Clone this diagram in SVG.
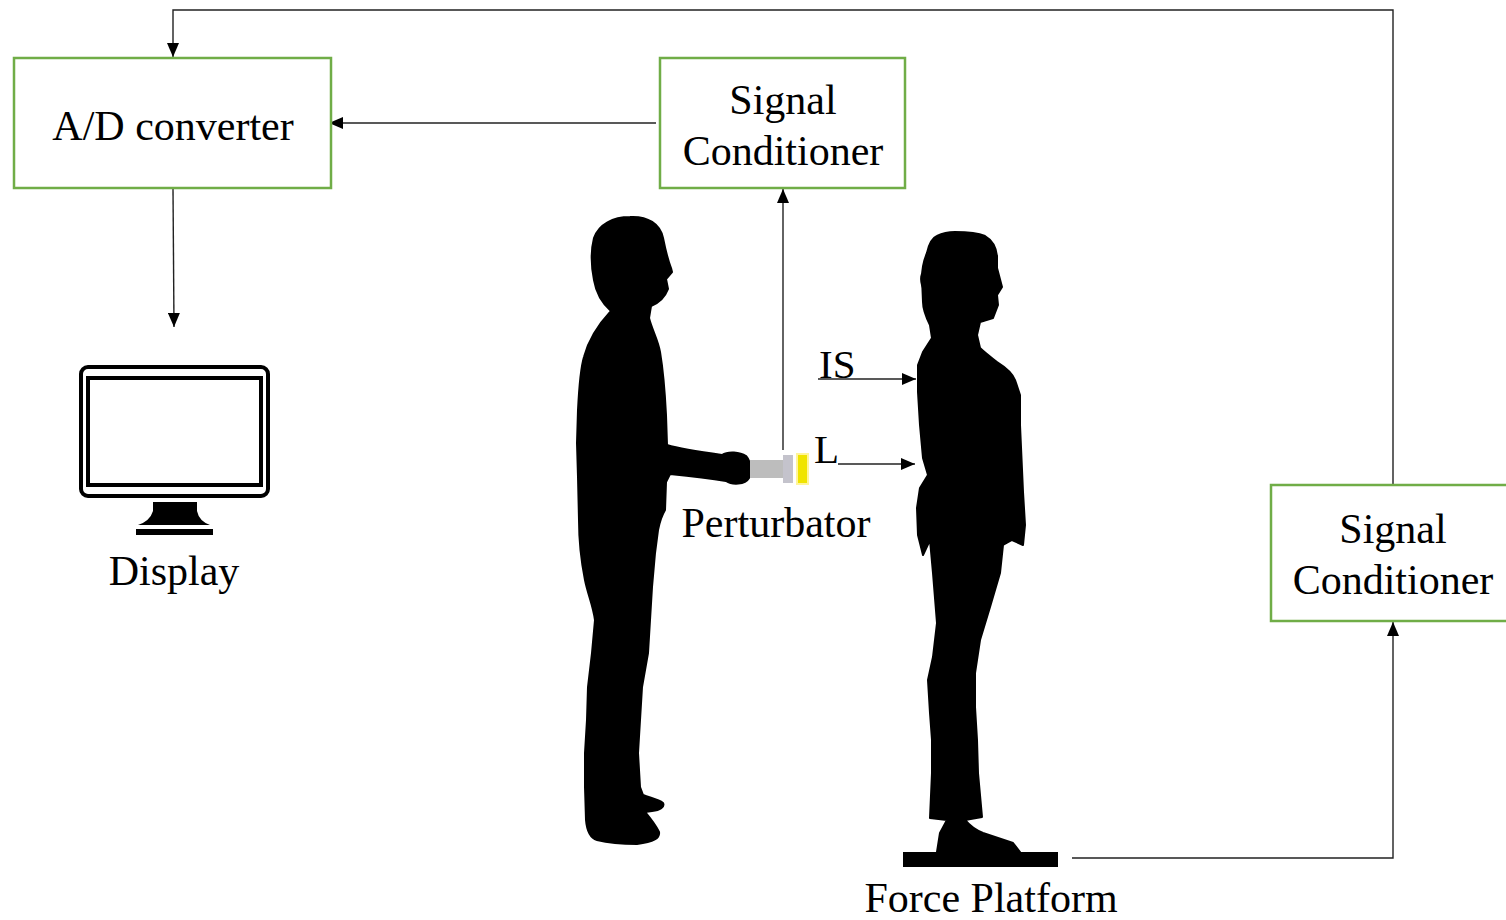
<svg xmlns="http://www.w3.org/2000/svg" width="1506" height="920" viewBox="0 0 1506 920">
<style>
.box{fill:#fff;stroke:#70ad47;stroke-width:2.5}
.lbl{font-family:"Liberation Serif","Times New Roman",serif;font-size:42px;fill:#000;text-anchor:middle}
.tag{font-family:"Liberation Serif","Times New Roman",serif;font-size:41px;fill:#000}
.conn{fill:none;stroke:#222;stroke-width:1.4}
.sil{fill:#000;stroke:#000;stroke-width:2;stroke-linejoin:round}
</style>
<defs>
<marker id="ah" markerUnits="userSpaceOnUse" markerWidth="15" markerHeight="12" refX="14" refY="6" orient="auto">
<path d="M0,0 L14,6 L0,12 Z" fill="#000"/>
</marker>
</defs>
<rect width="1506" height="920" fill="#fff"/>

<g id="connectors">
<path class="conn" d="M1393,484 V10 H173 V57" marker-end="url(#ah)"/>
<path class="conn" d="M656,123 H329" marker-end="url(#ah)"/>
<path class="conn" d="M173,189 L174,327" marker-end="url(#ah)"/>
<path class="conn" d="M783,450 V189" marker-end="url(#ah)"/>
<path class="conn" d="M818,379 H916" marker-end="url(#ah)"/>
<path class="conn" d="M838,464 H915" marker-end="url(#ah)"/>
<path class="conn" d="M1072,858 H1393 V622" marker-end="url(#ah)"/>
</g>

<g id="ad-converter">
<rect class="box" x="14" y="58" width="317" height="130"/>
<text class="lbl" x="173" y="140">A/D converter</text>
</g>

<g id="signal-conditioner-1">
<rect class="box" x="660" y="58" width="245" height="130"/>
<text class="lbl" x="783" y="114">Signal</text>
<text class="lbl" x="783" y="165">Conditioner</text>
</g>

<g id="signal-conditioner-2">
<rect class="box" x="1271" y="485" width="245" height="136"/>
<text class="lbl" x="1393" y="543">Signal</text>
<text class="lbl" x="1393" y="594">Conditioner</text>
</g>

<g id="display">
<rect x="81" y="367" width="187" height="129" rx="7" fill="none" stroke="#000" stroke-width="4"/>
<rect x="88" y="378" width="173" height="107" fill="none" stroke="#000" stroke-width="4"/>
<path d="M153,502 H197 V511 Q199,521 210,525 H138 Q150,521 153,511 Z" fill="#000"/>
<rect x="136" y="529" width="77" height="6" fill="#000"/>
<text class="lbl" x="174" y="585">Display</text>
</g>

<g id="perturber-person">
<path class="sil" d="M630,217 C648,216 660,224 663,238 C665,248 667,258 671,268 L672,272 L666,279 L668,289 C665,297 659,303 651,306 L649,318 C652,330 658,340 660,352 C663,370 665,395 666,415 L667,445 C680,449 700,452 722,455 C728,451 740,452 746,456 C751,462 752,472 749,478 C745,485 732,485 726,481 C708,478 690,476 670,474 L666,482 L665,510 C662,515 660,520 658,530 L655,553 L652,587 L650,620 L648,653 L642,687 L640,720 L638,753 L640,787 L643,795 C650,798 658,799 663,803 C665,807 660,810 652,811 L645,812 C650,818 656,826 659,832 C660,838 654,842 637,844 C620,844 605,842 597,840 C590,838 587,832 586,820 L585,787 L585,753 L587,720 L588,687 L592,653 L595,620 C593,605 588,595 585,580 C581,560 579,540 579,520 L578,477 L577,443 L578,410 C579,390 580,370 584,357 C588,342 598,325 611,311 C602,303 596,292 594,280 C591,265 591,250 594,238 C599,224 613,217 630,217 Z"/>
</g>

<g id="perturbator">
<rect x="750" y="460" width="36" height="18" fill="#bdbdbd"/>
<rect x="783" y="455" width="10" height="28" fill="#c4c3cc"/>
<rect x="796" y="453" width="13" height="32" fill="#fff59a"/>
<rect x="798" y="455" width="9" height="28" fill="#f0e400"/>
<text class="lbl" x="776" y="537">Perturbator</text>
</g>

<g id="subject">
<path class="sil" d="M955,232 C968,232 978,233 985,236 C992,240 996,246 997,256 L997,268 L1002,287 L997,295 L998,305 L993,318 L980,322 L977,335 L980,348 C985,353 992,358 997,362 C1005,367 1012,372 1015,380 L1020,395 L1020,425 L1023,492 L1025,525 L1023,545 L1012,540 L1003,545 L1000,573 L990,607 L980,640 L975,673 L975,707 L977,740 L978,773 L982,817 L965,820 C970,826 975,830 983,833 L1013,843 L1020,852 L937,852 L940,833 L947,820 L930,818 L932,773 L932,740 L930,713 L928,680 L933,657 L937,623 L933,573 L930,540 L923,555 L918,535 L917,508 L920,488 L928,475 L923,458 L920,425 L918,392 L918,365 L923,352 L932,338 L930,325 C925,315 923,308 923,302 L922,278 C922,268 924,260 927,253 C929,244 932,238 937,236 C943,233 948,232 955,232 Z"/>
<path d="M927,270 C920,272 920,280 923,288" fill="none" stroke="#000" stroke-width="2"/>
<text class="tag" x="819" y="378">IS</text>
<text class="tag" x="814" y="463">L</text>
</g>

<g id="force-platform">
<rect x="903" y="852" width="155" height="15" fill="#000"/>
<text class="lbl" x="991" y="912">Force Platform</text>
</g>
</svg>
